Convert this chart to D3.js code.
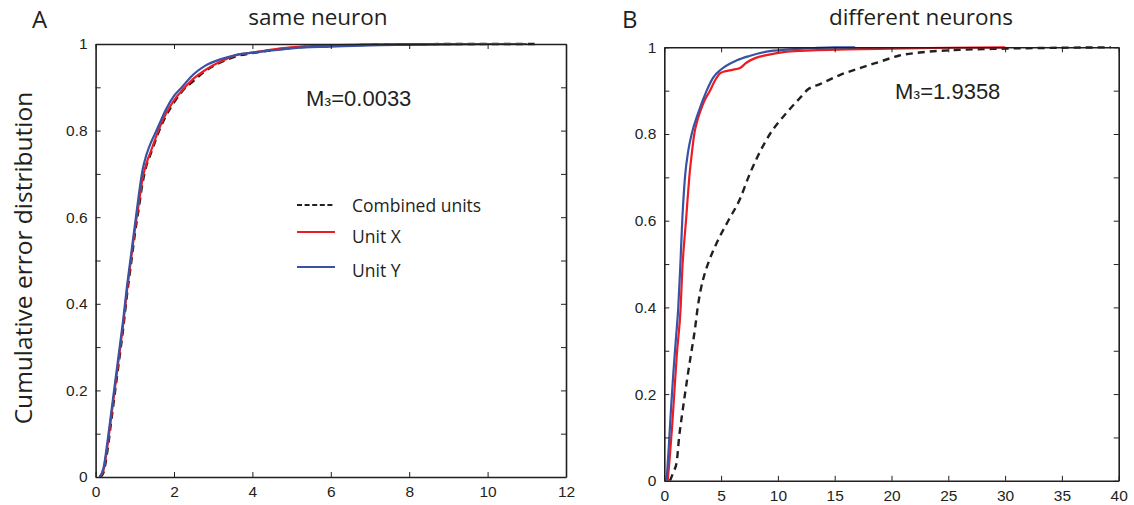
<!DOCTYPE html>
<html>
<head>
<meta charset="utf-8">
<script src="https://cdn.jsdelivr.net/npm/d3@7"></script>
<style>
  html, body { margin: 0; padding: 0; background: #fff; }
  svg { display: block; }
</style>
</head>
<body>
<svg id="chart" width="1134" height="505"></svg>
<script>
// ---------------- data ----------------
const panelLabels = ["A", "B"];
const panelTitles = ["same neuron", "different neurons"];
const statTexts = [["M", "з", "=0.0033"], ["M", "з", "=1.9358"]];
const yAxisTitle = "Cumulative error distribution";
const legendLabels = ["Combined units", "Unit X", "Unit Y"];

const xTicksA = [0, 2, 4, 6, 8, 10, 12];
const xTicksB = [0, 5, 10, 15, 20, 25, 30, 35, 40];
const yTicks = [0, 0.2, 0.4, 0.6, 0.8, 1];
const yMinorTicks = [0.1, 0.3, 0.5, 0.7, 0.9];

// Panel A: same neuron
const errA_combined = [0.12, 0.2, 0.3, 0.4, 0.5, 0.6, 0.7, 0.8, 0.9, 1.0, 1.1, 1.2, 1.3, 1.4, 1.5, 1.6, 1.8, 2.0, 2.2, 2.5, 2.8, 3.2, 3.6, 4.0, 4.5, 5.0, 6.0, 7.0, 8.0, 9.0, 10.0, 11.2];
const cdfA_combined = [0, 0.01, 0.06, 0.13, 0.2, 0.27, 0.34, 0.42, 0.49, 0.56, 0.62, 0.68, 0.72, 0.745, 0.77, 0.795, 0.835, 0.865, 0.89, 0.915, 0.938, 0.958, 0.972, 0.979, 0.986, 0.991, 0.996, 0.998, 0.999, 1, 1, 1];
const errA_unitX = [0.1, 0.2, 0.3, 0.4, 0.5, 0.6, 0.7, 0.8, 0.9, 1.0, 1.1, 1.2, 1.3, 1.4, 1.5, 1.6, 1.8, 2.0, 2.2, 2.5, 2.8, 3.2, 3.6, 4.0, 4.5, 5.0, 6.0, 7.0, 8.0, 9.0, 10.0, 11.0];
const cdfA_unitX = [0, 0.015, 0.07, 0.14, 0.21, 0.28, 0.35, 0.43, 0.5, 0.57, 0.63, 0.69, 0.725, 0.75, 0.775, 0.8, 0.84, 0.87, 0.892, 0.92, 0.94, 0.96, 0.975, 0.98, 0.987, 0.992, 0.997, 0.999, 1, 1, 1, 1];
const errA_unitY = [0.1, 0.2, 0.3, 0.4, 0.5, 0.6, 0.7, 0.8, 0.9, 1.0, 1.1, 1.2, 1.3, 1.4, 1.5, 1.6, 1.8, 2.0, 2.2, 2.5, 2.8, 3.2, 3.6, 4.0, 4.5, 5.0, 6.0, 7.0, 8.0, 9.0, 10.0, 10.9];
const cdfA_unitY = [0, 0.02, 0.08, 0.15, 0.22, 0.29, 0.36, 0.44, 0.51, 0.58, 0.65, 0.71, 0.745, 0.77, 0.79, 0.81, 0.85, 0.88, 0.9, 0.93, 0.95, 0.965, 0.975, 0.98, 0.985, 0.99, 0.994, 0.997, 0.998, 0.999, 1, 1];

// Panel B: different neurons
const errB_combined = [0.5, 0.8, 1.09, 1.3, 1.55, 1.82, 2.1, 2.4, 2.7, 2.94, 3.2, 3.58, 3.95, 4.6, 5.63, 6.66, 7.4, 8.25, 9.3, 10.8, 11.9, 12.6, 13.7, 15.45, 17.2, 19.0, 20.7, 22.5, 26.0, 30.0, 35.0, 39.3];
const cdfB_combined = [0, 0.02, 0.043, 0.1, 0.15, 0.2, 0.25, 0.3, 0.35, 0.4, 0.44, 0.48, 0.508, 0.548, 0.6, 0.65, 0.7, 0.75, 0.8, 0.85, 0.882, 0.902, 0.915, 0.936, 0.952, 0.967, 0.981, 0.988, 0.994, 0.997, 0.999, 1];
const errB_unitX = [0.3, 0.5, 0.7, 0.9, 1.1, 1.44, 1.59, 1.75, 1.91, 2.05, 2.2, 2.4, 2.64, 2.9, 3.14, 3.5, 4.02, 4.5, 4.9, 5.4, 6.0, 6.7, 7.25, 8.0, 9.0, 10.8, 13.0, 16.0, 20.0, 25.0, 30.0];
const cdfB_unitX = [0, 0.06, 0.13, 0.21, 0.29, 0.4, 0.49, 0.55, 0.6, 0.65, 0.7, 0.75, 0.8, 0.83, 0.85, 0.875, 0.9, 0.925, 0.94, 0.945, 0.948, 0.953, 0.965, 0.975, 0.982, 0.99, 0.993, 0.995, 0.997, 0.999, 1];
const errB_unitY = [0.2, 0.4, 0.6, 0.8, 1.0, 1.23, 1.4, 1.58, 1.82, 2.1, 2.41, 3.0, 3.73, 4.3, 5.05, 6.4, 7.5, 9.0, 11.0, 13.0, 15.0, 16.8];
const cdfB_unitY = [0, 0.08, 0.17, 0.25, 0.32, 0.4, 0.49, 0.6, 0.7, 0.76, 0.8, 0.85, 0.9, 0.93, 0.95, 0.97, 0.98, 0.99, 0.995, 0.998, 1, 1];

// ---------------- drawing ----------------
const colors = { combined: "#231f20", unitX: "#ed1c24", unitY: "#3953a4" };
const svg = d3.select("#chart");
const tickFont = '"Liberation Sans", Arial, sans-serif';
const textFont = '"Open Sans", "Noto Sans", sans-serif';

const panels = [
  { left: 95.6, right: 566, top: 44, bottom: 477, xDomain: [0, 12], xTicks: xTicksA,
    series: [
      { x: errA_combined, y: cdfA_combined, key: "combined" },
      { x: errA_unitX, y: cdfA_unitX, key: "unitX" },
      { x: errA_unitY, y: cdfA_unitY, key: "unitY" }
    ] },
  { left: 664.3, right: 1118.7, top: 47.3, bottom: 480.8, xDomain: [0, 40], xTicks: xTicksB,
    series: [
      { x: errB_combined, y: cdfB_combined, key: "combined" },
      { x: errB_unitX, y: cdfB_unitX, key: "unitX" },
      { x: errB_unitY, y: cdfB_unitY, key: "unitY" }
    ] }
];

const yFmt = d => (d === 0 || d === 1) ? String(d) : d.toFixed(1);

panels.forEach((p, i) => {
  const x = d3.scaleLinear().domain(p.xDomain).range([p.left, p.right]);
  const y = d3.scaleLinear().domain([0, 1]).range([p.bottom, p.top]);
  const g = svg.append("g");

  const clipId = "clip" + i;
  svg.append("clipPath").attr("id", clipId)
    .append("rect").attr("x", p.left).attr("y", p.top - 3)
    .attr("width", p.right - p.left).attr("height", p.bottom - p.top + 3);

  // curves
  const line = d3.line().x(d => x(d[0])).y(d => y(d[1])).curve(d3.curveMonotoneX);
  ["combined", "unitX", "unitY"].forEach(k => {
    const s = p.series.find(ss => ss.key === k);
    const pts = s.x.map((v, j) => [v, s.y[j]]);
    g.append("path")
      .attr("clip-path", `url(#${clipId})`)
      .attr("d", line(pts))
      .attr("fill", "none")
      .attr("stroke", colors[k])
      .attr("stroke-width", k === "combined" ? 2.4 : 2.2)
      .attr("stroke-dasharray", k === "combined" ? "7,5" : null);
  });

  // axes (ticks point inward, box all round)
  const axStyle = sel => {
    sel.select(".domain").attr("stroke", "#231f20").attr("stroke-width", 1.6);
    sel.selectAll(".tick line").attr("stroke", "#231f20").attr("stroke-width", 1);
  };
  const yAll = yTicks.concat(yMinorTicks).sort((a, b) => a - b);
  g.append("g").attr("transform", `translate(${p.left},0)`)
    .call(d3.axisLeft(y).tickValues(yAll).tickSize(-5).tickSizeOuter(0).tickPadding(8)
      .tickFormat(d => yTicks.some(t => Math.abs(t - d) < 1e-9) ? yFmt(d) : ""))
    .call(axStyle);
  g.append("g").attr("transform", `translate(${p.right},0)`)
    .call(d3.axisRight(y).tickValues(yAll).tickSize(-5).tickSizeOuter(0).tickFormat(""))
    .call(axStyle);
  g.append("g").attr("transform", `translate(0,${p.bottom})`)
    .call(d3.axisBottom(x).tickValues(p.xTicks).tickSize(-5).tickSizeOuter(0).tickPadding(9)
      .tickFormat(d3.format("d")))
    .call(axStyle);
  g.append("g").attr("transform", `translate(0,${p.top})`)
    .call(d3.axisTop(x).tickValues(p.xTicks).tickSize(-5).tickSizeOuter(0).tickFormat(""))
    .call(axStyle);
  g.selectAll(".tick text").attr("font-family", tickFont).attr("font-size", 15.5).attr("fill", "#231f20");

  // panel letter + title
  svg.append("text").attr("x", i === 0 ? 32 : 622).attr("y", 28)
    .attr("font-family", textFont).attr("font-size", 24).attr("fill", "#231f20")
    .text(panelLabels[i]);
  svg.append("text").attr("x", i === 0 ? 318 : 921).attr("y", 24.5)
    .attr("text-anchor", "middle")
    .attr("font-family", textFont).attr("font-size", 22.5).attr("fill", "#231f20")
    .text(panelTitles[i]);

  // statistic
  const st = svg.append("text").attr("x", i === 0 ? 306 : 895).attr("y", i === 0 ? 106 : 99)
    .attr("font-family", tickFont).attr("font-size", 22).attr("fill", "#231f20");
  st.append("tspan").text(statTexts[i][0]);
  st.append("tspan").attr("font-size", 15).text(statTexts[i][1]);
  st.append("tspan").text(statTexts[i][2]);
});

// legend (panel A)
const legendY = [205, 232, 267];
const legendTextY = [211.5, 242.5, 276.5];
const legendKeys = ["combined", "unitX", "unitY"];
const lg = svg.append("g");
legendKeys.forEach((k, j) => {
  lg.append("line").attr("x1", 297).attr("x2", 335).attr("y1", legendY[j]).attr("y2", legendY[j])
    .attr("stroke", colors[k]).attr("stroke-width", k === "combined" ? 2 : 2.2)
    .attr("stroke-dasharray", k === "combined" ? "5,2.6" : null);
  lg.append("text").attr("x", 352).attr("y", legendTextY[j])
    .attr("font-family", textFont).attr("font-size", 17.5).attr("fill", "#231f20")
    .text(legendLabels[j]);
});

// y axis title
svg.append("text")
  .attr("transform", "translate(32,258) rotate(-90)")
  .attr("text-anchor", "middle")
  .attr("font-family", textFont).attr("font-size", 24.5).attr("fill", "#231f20")
  .text(yAxisTitle);
</script>
</body>
</html>
